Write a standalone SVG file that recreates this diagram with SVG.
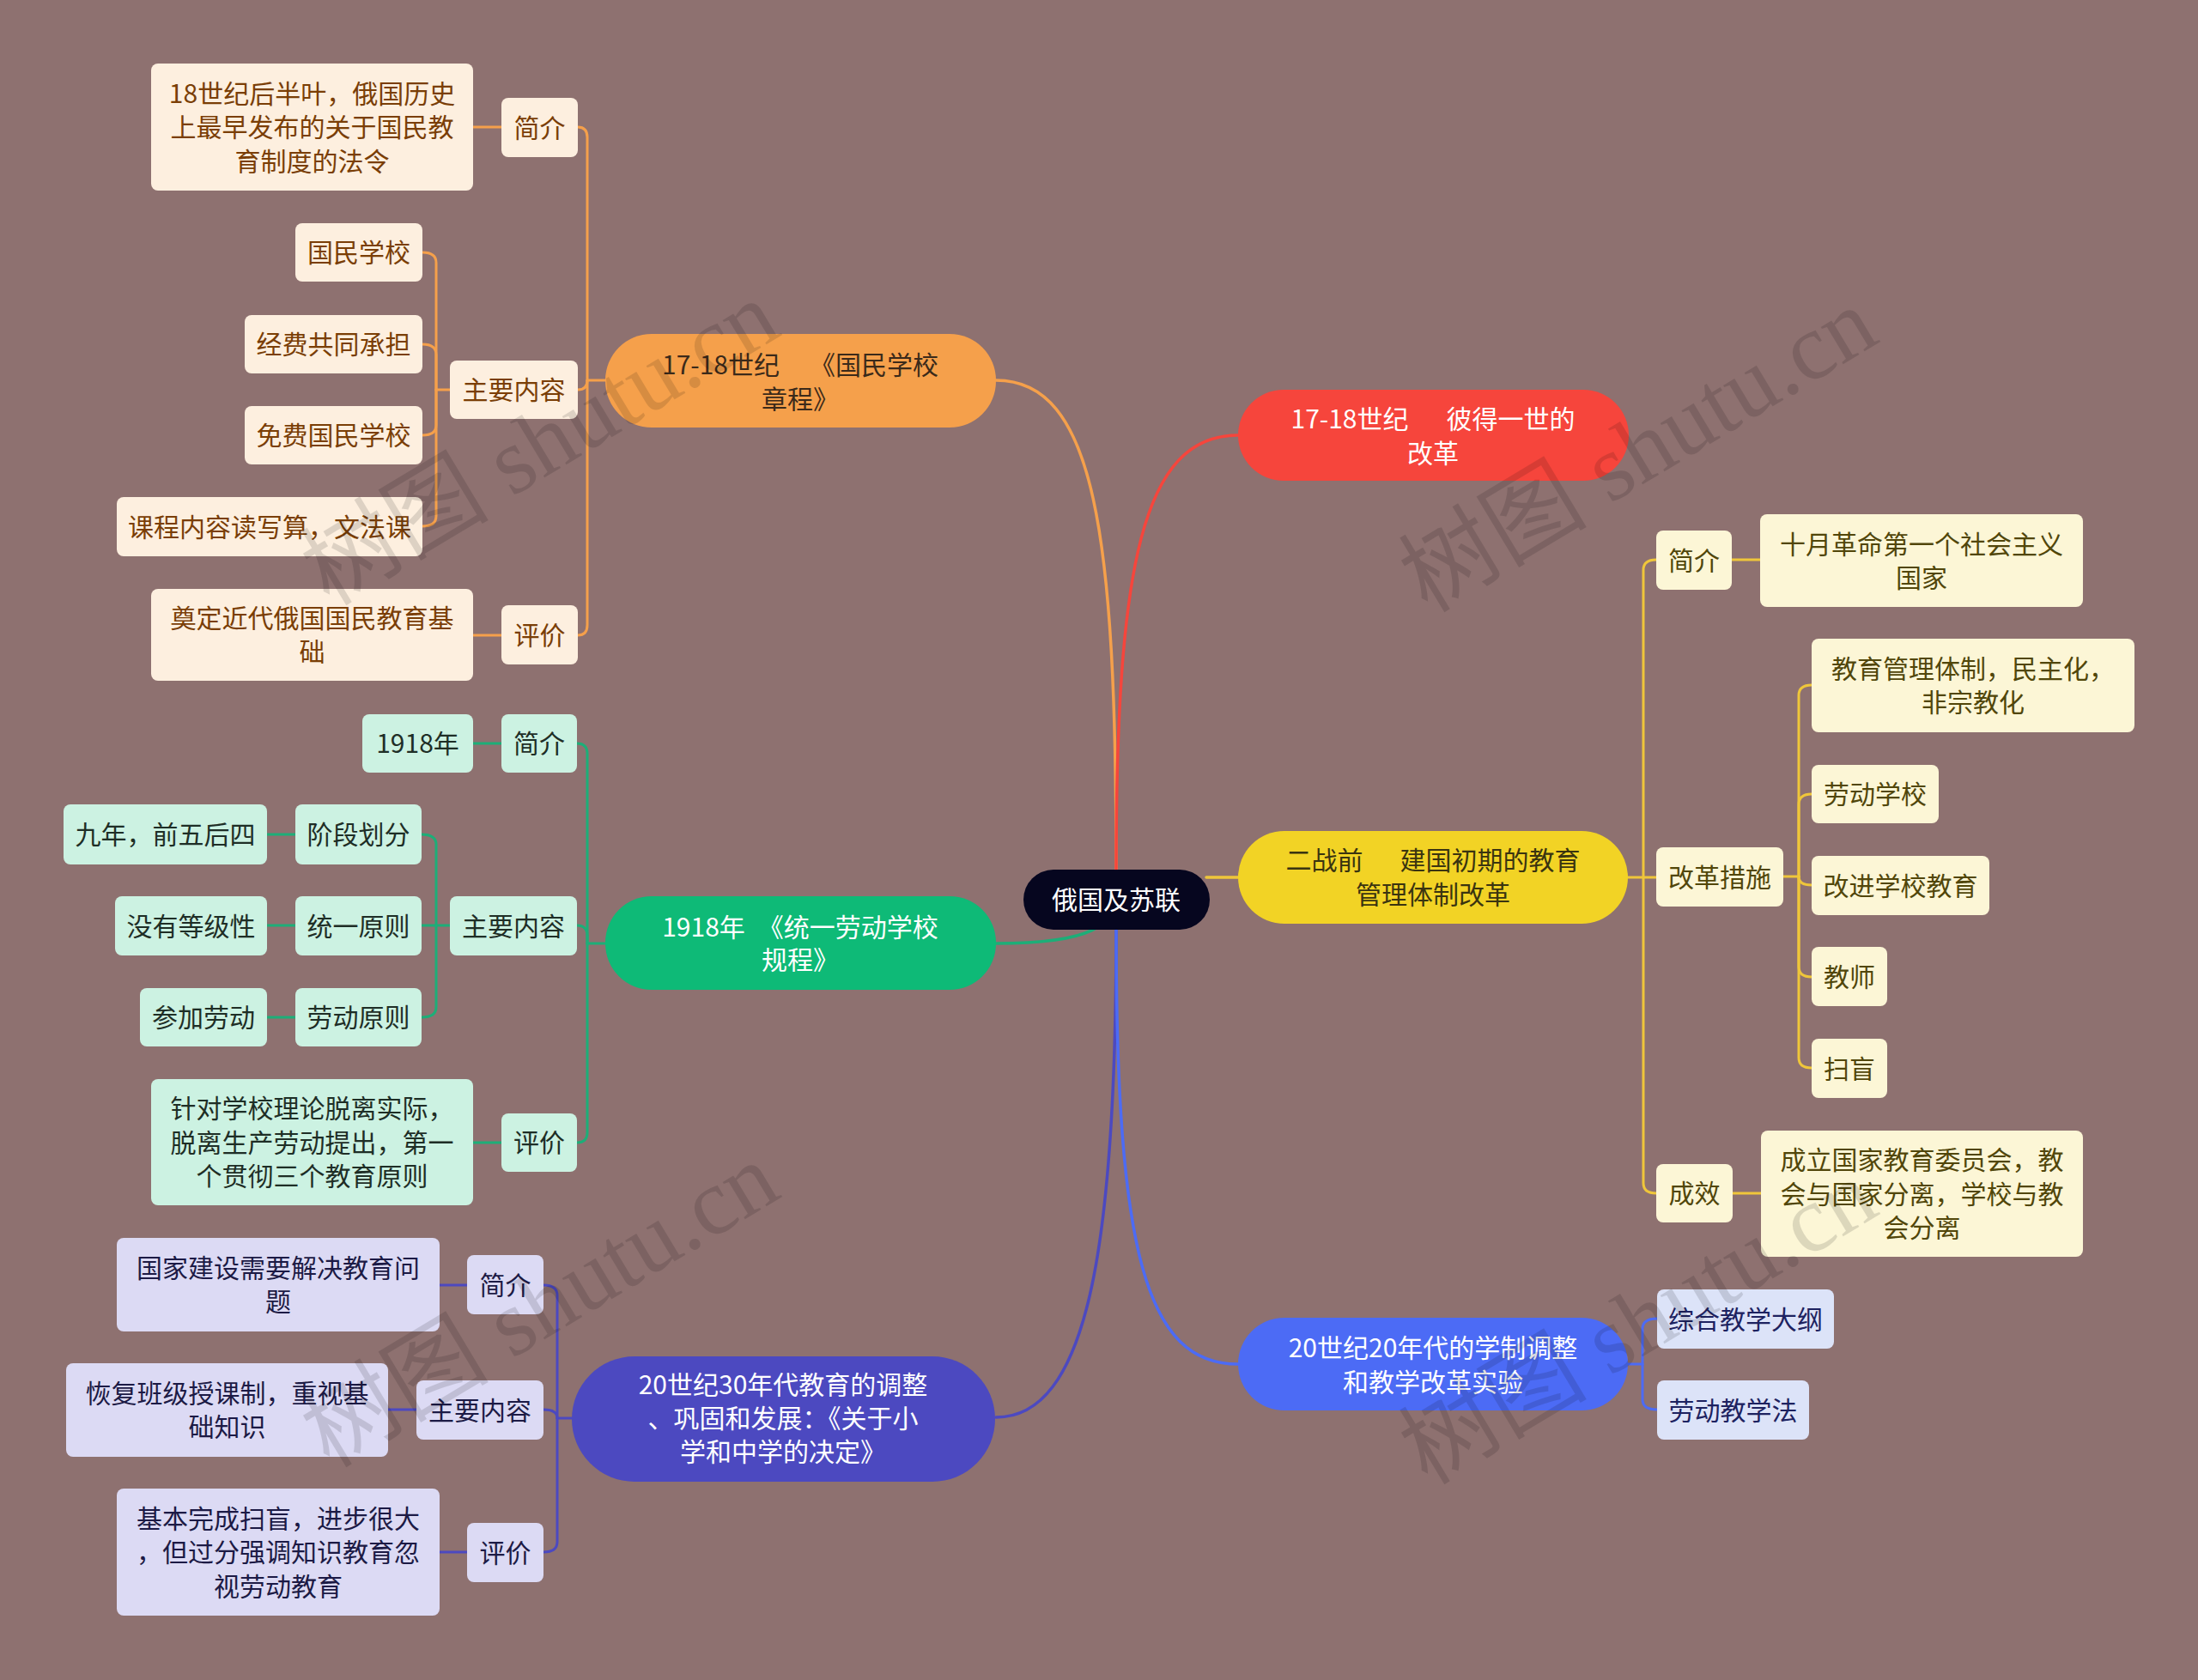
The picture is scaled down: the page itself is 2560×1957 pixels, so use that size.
<svg xmlns="http://www.w3.org/2000/svg" width="2560" height="1957" viewBox="0 0 2560 1957">
<style>
text{font-family:"Noto Sans CJK SC","Microsoft YaHei",sans-serif;font-size:30px;text-anchor:middle}
.c{fill:none;stroke-width:3;stroke-linecap:round;stroke-linejoin:round}
.m{fill:none;stroke-width:3.5;stroke-linecap:round}
.lo{fill:#FDEFDF}.to{fill:#7A3E06}.so{stroke:#F5A04B}
.lg{fill:#CCF2E2}.tg{fill:#1E2E26}.sg{stroke:#1DAE78}
.lp{fill:#DCDAF4}.tp{fill:#1C1A45}.sp{stroke:#4C49C0}
.ly{fill:#FCF6D6}.ty{fill:#51460A}.sy{stroke:#EFC63A}
.lb{fill:#DCE3F8}.tb{fill:#1D2260}.sb{stroke:#4C6BF5}
.w{fill:#FFFFFF}
.wm{font-family:"Liberation Serif","Noto Sans CJK SC",serif;font-size:110px;fill:#000;opacity:0.12}
</style>
<rect x="0" y="0" width="2560" height="1957" fill="#8E7170"/>

<g id="connectors">
  <path class="m so" d="M1300,1013 C1300,620 1275,443 1160,443"/>
  <path class="m" stroke="#F6453C" d="M1300,1013 C1300,660 1330,507 1442,507"/>
  <path class="m sy" d="M1405,1022 H1442"/>
  <path class="m sg" d="M1275,1082 C1250,1096 1205,1099 1160,1099"/>
  <path class="m sp" d="M1300,1083 C1300,1460 1265,1651 1160,1651"/>
  <path class="m sb" d="M1300,1083 C1300,1460 1335,1589 1442,1589"/>

  <g class="c so">
    <path d="M705,443 H684"/>
    <path d="M684,443 V160 Q684,148 673,148"/>
    <path d="M684,443 Q684,454 673,454"/>
    <path d="M684,443 V728 Q684,740 673,740"/>
    <path d="M551,148 H584"/>
    <path d="M551,740 H584"/>
    <path d="M524,454 H508"/>
    <path d="M508,454 V306 Q508,294 492,294"/>
    <path d="M508,454 V413 Q508,401 492,401"/>
    <path d="M508,454 V495 Q508,507 492,507"/>
    <path d="M508,454 V601 Q508,613 492,613"/>
  </g>
  <g class="c sg">
    <path d="M705,1099 H684"/>
    <path d="M684,1099 V878 Q684,866 672,866"/>
    <path d="M684,1099 V1090 Q684,1078 672,1078"/>
    <path d="M684,1099 V1319 Q684,1331 672,1331"/>
    <path d="M551,866 H584"/>
    <path d="M551,1331 H584"/>
    <path d="M524,1078 H508"/>
    <path d="M508,1078 V984 Q508,972 491,972"/>
    <path d="M508,1078 H491"/>
    <path d="M508,1078 V1173 Q508,1185 491,1185"/>
    <path d="M311,972 H344"/>
    <path d="M311,1078 H344"/>
    <path d="M311,1185 H344"/>
  </g>
  <g class="c sp">
    <path d="M666,1652 H649"/>
    <path d="M649,1652 V1509 Q649,1497 633,1497"/>
    <path d="M649,1652 Q649,1642 633,1642"/>
    <path d="M649,1652 V1796 Q649,1808 633,1808"/>
    <path d="M512,1497 H544"/>
    <path d="M452,1642 H485"/>
    <path d="M512,1808 H544"/>
  </g>
  <g class="c sy">
    <path d="M1896,1022 H1914"/>
    <path d="M1914,1022 V664 Q1914,652 1929,652"/>
    <path d="M1914,1022 H1929"/>
    <path d="M1914,1022 V1378 Q1914,1390 1929,1390"/>
    <path d="M2017,652 H2050"/>
    <path d="M2018,1390 H2051"/>
    <path d="M2077,1021 H2095"/>
    <path d="M2095,1021 V810 Q2095,798 2110,798"/>
    <path d="M2095,1021 V937 Q2095,925 2110,925"/>
    <path d="M2095,1021 Q2095,1031 2110,1031"/>
    <path d="M2095,1021 V1126 Q2095,1138 2110,1138"/>
    <path d="M2095,1021 V1232 Q2095,1244 2110,1244"/>
  </g>
  <g class="c sb">
    <path d="M1896,1589 H1913"/>
    <path d="M1913,1589 V1548 Q1913,1536 1930,1536"/>
    <path d="M1913,1589 V1630 Q1913,1642 1930,1642"/>
  </g>
</g>

<g id="root">
  <rect x="1192" y="1013" width="217" height="70" rx="35" fill="#06061F"/>
  <text x="1300" y="1059" class="w">俄国及苏联</text>
</g>

<g id="b-orange">
  <rect x="705" y="389" width="455" height="109" rx="54" fill="#F5A04B"/>
  <text x="932" y="436" fill="#3B2A1A"><tspan>17-18世纪</tspan><tspan dx="35">《国民学校</tspan></text>
  <text x="932" y="476" fill="#3B2A1A">章程》</text>
</g>
<g id="o-intro"><rect x="584" y="114" width="89" height="69" rx="8" class="lo"/><text x="628.5" y="159.5" class="to">简介</text></g>
<g id="o-intro-1"><rect x="176" y="74" width="375" height="148" rx="8" class="lo"/>
  <text x="363.5" y="119.5" class="to">18世纪后半叶，俄国历史</text>
  <text x="363.5" y="159" class="to">上最早发布的关于国民教</text>
  <text x="363.5" y="198.5" class="to">育制度的法令</text></g>
<g id="o-main"><rect x="524" y="420" width="149" height="68" rx="8" class="lo"/><text x="598.5" y="465" class="to">主要内容</text></g>
<g id="o-main-1"><rect x="344" y="260" width="148" height="68" rx="8" class="lo"/><text x="418" y="305" class="to">国民学校</text></g>
<g id="o-main-2"><rect x="285" y="367" width="207" height="68" rx="8" class="lo"/><text x="388.5" y="412" class="to">经费共同承担</text></g>
<g id="o-main-3"><rect x="285" y="473" width="207" height="68" rx="8" class="lo"/><text x="388.5" y="518" class="to">免费国民学校</text></g>
<g id="o-main-4"><rect x="136" y="579" width="356" height="69" rx="8" class="lo"/><text x="314" y="624.5" class="to">课程内容读写算，文法课</text></g>
<g id="o-eval"><rect x="584" y="705" width="89" height="69" rx="8" class="lo"/><text x="628.5" y="750.5" class="to">评价</text></g>
<g id="o-eval-1"><rect x="176" y="686" width="375" height="107" rx="8" class="lo"/>
  <text x="363.5" y="731" class="to">奠定近代俄国国民教育基</text>
  <text x="363.5" y="770" class="to">础</text></g>

<g id="b-green">
  <rect x="705" y="1044" width="455" height="109" rx="54" fill="#0EBA77"/>
  <text x="932" y="1091" class="w"><tspan>1918年</tspan><tspan dx="15">《统一劳动学校</tspan></text>
  <text x="932" y="1129" class="w">规程》</text>
</g>
<g id="g-intro"><rect x="584" y="832" width="88" height="68" rx="8" class="lg"/><text x="628" y="877" class="tg">简介</text></g>
<g id="g-intro-1"><rect x="422" y="832" width="129" height="68" rx="8" class="lg"/><text x="486.5" y="877" class="tg">1918年</text></g>
<g id="g-main"><rect x="524" y="1044" width="148" height="69" rx="8" class="lg"/><text x="598" y="1089.5" class="tg">主要内容</text></g>
<g id="g-main-1"><rect x="344" y="937" width="147" height="70" rx="8" class="lg"/><text x="417.5" y="983" class="tg">阶段划分</text></g>
<g id="g-main-1a"><rect x="74" y="937" width="237" height="70" rx="8" class="lg"/><text x="192.5" y="983" class="tg">九年，前五后四</text></g>
<g id="g-main-2"><rect x="344" y="1044" width="147" height="69" rx="8" class="lg"/><text x="417.5" y="1089.5" class="tg">统一原则</text></g>
<g id="g-main-2a"><rect x="134" y="1044" width="177" height="69" rx="8" class="lg"/><text x="222.5" y="1089.5" class="tg">没有等级性</text></g>
<g id="g-main-3"><rect x="344" y="1151" width="147" height="68" rx="8" class="lg"/><text x="417.5" y="1196" class="tg">劳动原则</text></g>
<g id="g-main-3a"><rect x="163" y="1151" width="148" height="68" rx="8" class="lg"/><text x="237" y="1196" class="tg">参加劳动</text></g>
<g id="g-eval"><rect x="584" y="1297" width="88" height="68" rx="8" class="lg"/><text x="628" y="1342" class="tg">评价</text></g>
<g id="g-eval-1"><rect x="176" y="1257" width="375" height="147" rx="8" class="lg"/>
  <text x="363.5" y="1302" class="tg">针对学校理论脱离实际，</text>
  <text x="363.5" y="1341.5" class="tg">脱离生产劳动提出，第一</text>
  <text x="363.5" y="1381" class="tg">个贯彻三个教育原则</text></g>

<g id="b-purple">
  <rect x="666" y="1580" width="493" height="146" rx="73" fill="#4C49C0"/>
  <text x="912" y="1624" class="w">20世纪30年代教育的调整</text>
  <text x="912" y="1663" class="w">、巩固和发展：《关于小</text>
  <text x="912" y="1702" class="w">学和中学的决定》</text>
</g>
<g id="p-intro"><rect x="544" y="1462" width="89" height="69" rx="8" class="lp"/><text x="588.5" y="1507.5" class="tp">简介</text></g>
<g id="p-intro-1"><rect x="136" y="1442" width="376" height="109" rx="8" class="lp"/>
  <text x="324" y="1488" class="tp">国家建设需要解决教育问</text>
  <text x="324" y="1527" class="tp">题</text></g>
<g id="p-main"><rect x="485" y="1608" width="148" height="69" rx="8" class="lp"/><text x="559" y="1653.5" class="tp">主要内容</text></g>
<g id="p-main-1"><rect x="77" y="1588" width="375" height="109" rx="8" class="lp"/>
  <text x="264.5" y="1634" class="tp">恢复班级授课制，重视基</text>
  <text x="264.5" y="1673" class="tp">础知识</text></g>
<g id="p-eval"><rect x="544" y="1774" width="89" height="69" rx="8" class="lp"/><text x="588.5" y="1819.5" class="tp">评价</text></g>
<g id="p-eval-1"><rect x="136" y="1734" width="376" height="148" rx="8" class="lp"/>
  <text x="324" y="1779.5" class="tp">基本完成扫盲，进步很大</text>
  <text x="324" y="1819" class="tp">，但过分强调知识教育忽</text>
  <text x="324" y="1858.5" class="tp">视劳动教育</text></g>

<g id="b-red">
  <rect x="1442" y="454" width="455" height="106" rx="53" fill="#F6453C"/>
  <text x="1669" y="499" class="w"><tspan>17-18世纪</tspan><tspan dx="44">彼得一世的</tspan></text>
  <text x="1669" y="539" class="w">改革</text>
</g>

<g id="b-yellow">
  <rect x="1442" y="968" width="454" height="108" rx="54" fill="#F2D325"/>
  <text x="1669" y="1013" fill="#3A3410"><tspan>二战前</tspan><tspan dx="43">建国初期的教育</tspan></text>
  <text x="1669" y="1053" fill="#3A3410">管理体制改革</text>
</g>
<g id="y-intro"><rect x="1929" y="618" width="88" height="69" rx="8" class="ly"/><text x="1973" y="663.5" class="ty">简介</text></g>
<g id="y-intro-1"><rect x="2050" y="599" width="376" height="108" rx="8" class="ly"/>
  <text x="2238" y="644.5" class="ty">十月革命第一个社会主义</text>
  <text x="2238" y="684" class="ty">国家</text></g>
<g id="y-main"><rect x="1929" y="987" width="148" height="69" rx="8" class="ly"/><text x="2003" y="1032.5" class="ty">改革措施</text></g>
<g id="y-main-1"><rect x="2110" y="744" width="376" height="109" rx="8" class="ly"/>
  <text x="2298" y="790" class="ty">教育管理体制，民主化，</text>
  <text x="2298" y="829" class="ty">非宗教化</text></g>
<g id="y-main-2"><rect x="2110" y="891" width="148" height="68" rx="8" class="ly"/><text x="2184" y="936" class="ty">劳动学校</text></g>
<g id="y-main-3"><rect x="2110" y="997" width="207" height="69" rx="8" class="ly"/><text x="2213.5" y="1042.5" class="ty">改进学校教育</text></g>
<g id="y-main-4"><rect x="2110" y="1103" width="88" height="69" rx="8" class="ly"/><text x="2154" y="1148.5" class="ty">教师</text></g>
<g id="y-main-5"><rect x="2110" y="1210" width="88" height="69" rx="8" class="ly"/><text x="2154" y="1255.5" class="ty">扫盲</text></g>
<g id="y-eff"><rect x="1929" y="1356" width="89" height="68" rx="8" class="ly"/><text x="1973.5" y="1401" class="ty">成效</text></g>
<g id="y-eff-1"><rect x="2051" y="1317" width="375" height="147" rx="8" class="ly"/>
  <text x="2238.5" y="1362" class="ty">成立国家教育委员会，教</text>
  <text x="2238.5" y="1401.5" class="ty">会与国家分离，学校与教</text>
  <text x="2238.5" y="1441" class="ty">会分离</text></g>

<g id="b-blue">
  <rect x="1442" y="1535" width="454" height="108" rx="54" fill="#4C6BF5"/>
  <text x="1669" y="1581" class="w">20世纪20年代的学制调整</text>
  <text x="1669" y="1621" class="w">和教学改革实验</text>
</g>
<g id="bl-1"><rect x="1930" y="1502" width="206" height="69" rx="8" class="lb"/><text x="2033" y="1547.5" class="tb">综合教学大纲</text></g>
<g id="bl-2"><rect x="1930" y="1608" width="177" height="69" rx="8" class="lb"/><text x="2018.5" y="1653.5" class="tb">劳动教学法</text></g>

<g id="watermarks">
  <text class="wm" transform="translate(648,548) rotate(-31)">树图 shutu.cn</text>
  <text class="wm" transform="translate(1927,556) rotate(-31)">树图 shutu.cn</text>
  <text class="wm" transform="translate(648,1552) rotate(-31)">树图 shutu.cn</text>
  <text class="wm" transform="translate(1927,1572) rotate(-31)">树图 shutu.cn</text>
</g>
</svg>
